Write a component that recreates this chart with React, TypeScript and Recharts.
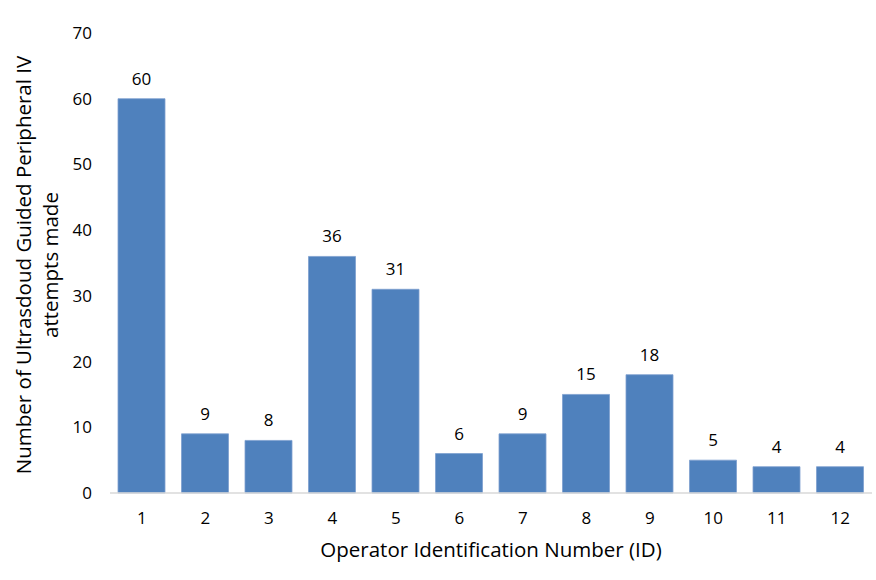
import React from 'react';
import { BarChart, Bar, XAxis, YAxis, LabelList } from 'recharts';

const operatorIds = ['1', '2', '3', '4', '5', '6', '7', '8', '9', '10', '11', '12'];
const attempts = [60, 9, 8, 36, 31, 6, 9, 15, 18, 5, 4, 4];
const yTicks = [0, 10, 20, 30, 40, 50, 60, 70];
const xTitle = 'Operator Identification Number (ID)';
const yTitleLines = ['Number of Ultrasdoud Guided Peripheral IV', 'attempts made'];

const data = operatorIds.map((id, i) => ({ id, attempts: attempts[i] }));

const FONT = '"Open Sans", sans-serif';
const TEXT = '#000000';
const TITLE_SIZE = 20.5;
const TICK_SIZE = 17;

const XTitle = (props: any) => {
  const vb = props.viewBox || {};
  const cx = vb.x + vb.width / 2;
  return (
    <text x={cx} y={vb.y + 64} textAnchor="middle" fontFamily={FONT} fontSize={TITLE_SIZE} fill={TEXT}>
      {xTitle}
    </text>
  );
};

const YTitle = (props: any) => {
  const vb = props.viewBox || {};
  const cy = vb.y + vb.height / 2 + 2;
  const x1 = 31;
  const x2 = 58;
  return (
    <g>
      <text x={x1} y={cy} transform={`rotate(-90 ${x1} ${cy})`} textAnchor="middle" fontFamily={FONT} fontSize={TITLE_SIZE} fill={TEXT}>
        {yTitleLines[0]}
      </text>
      <text x={x2} y={cy} transform={`rotate(-90 ${x2} ${cy})`} textAnchor="middle" fontFamily={FONT} fontSize={TITLE_SIZE} fill={TEXT}>
        {yTitleLines[1]}
      </text>
    </g>
  );
};

export default function App() {
  return (
    <div style={{ position: 'absolute', left: 0, top: 0, width: 876, height: 580, background: '#ffffff' }}>
      <BarChart
        width={876}
        height={580}
        data={data}
        margin={{ top: 33, right: 4, bottom: 57, left: 0 }}
        barSize={47}
      >
        <XAxis
          dataKey="id"
          height={30}
          axisLine={{ stroke: '#d9d9d9', strokeWidth: 1.5 }}
          tickLine={false}
          tickMargin={13}
          tick={{ fontFamily: FONT, fontSize: TICK_SIZE, fill: TEXT }}
          interval={0}
          label={<XTitle />}
        />
        <YAxis
          width={110}
          domain={[0, 70]}
          ticks={yTicks}
          axisLine={false}
          tickLine={false}
          tickMargin={12}
          tick={{ fontFamily: FONT, fontSize: TICK_SIZE, fill: TEXT }}
          label={<YTitle />}
        />
        <Bar dataKey="attempts" fill="#4f81bd" stroke="#7da0cf" strokeWidth={0.8} isAnimationActive={false}>
          <LabelList dataKey="attempts" position="top" offset={14} fontFamily={FONT} fontSize={TICK_SIZE} fill={TEXT} />
        </Bar>
      </BarChart>
    </div>
  );
}
